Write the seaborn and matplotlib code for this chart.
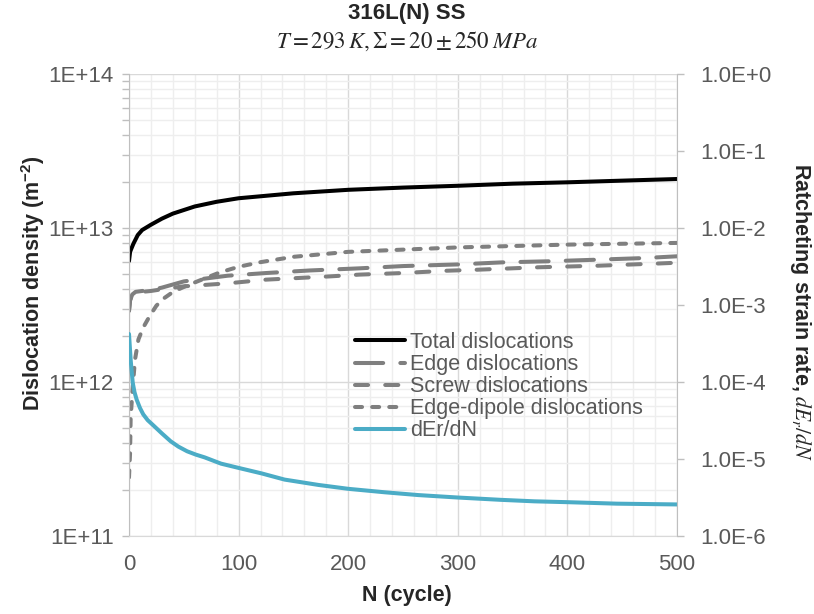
import matplotlib
matplotlib.use("Agg")
import matplotlib.pyplot as plt
import matplotlib.ticker as mticker
import seaborn as sns
import numpy as np

# values
n_total = [0, 1, 2, 4, 8, 12, 20, 30, 40, 60, 80, 100, 150, 200, 250, 300, 350, 400, 450, 500]
rho_total = [6.1e12, 7.0e12, 7.3e12, 7.9e12, 9.0e12, 9.7e12, 1.05e13, 1.15e13, 1.24e13, 1.38e13,
             1.48e13, 1.56e13, 1.68e13, 1.77e13, 1.83e13, 1.88e13, 1.94e13, 1.98e13, 2.03e13, 2.08e13]

n_edge = [0, 1, 3, 6, 12, 20, 30, 50, 70, 90, 125, 165, 210, 250, 300, 340, 383, 425, 470, 500]
rho_edge = [2.9e12, 3.4e12, 3.7e12, 3.85e12, 3.9e12, 3.95e12, 4.1e12, 4.5e12, 4.7e12, 4.9e12,
            5.1e12, 5.3e12, 5.47e12, 5.66e12, 5.8e12, 5.98e12, 6.08e12, 6.22e12, 6.38e12, 6.55e12]

n_screw = [0, 1, 3, 6, 12, 20, 30, 50, 90, 125, 183, 210, 250, 290, 318, 374, 428, 485, 500]
rho_screw = [2.9e12, 3.4e12, 3.7e12, 3.8e12, 3.85e12, 3.9e12, 4.0e12, 4.18e12, 4.37e12, 4.62e12,
             4.85e12, 4.98e12, 5.1e12, 5.28e12, 5.36e12, 5.56e12, 5.69e12, 5.89e12, 5.95e12]

n_dipole = [0, 1, 1.5, 3.4, 5.5, 8.6, 13, 19, 25, 31, 41, 53, 68, 83, 100, 120, 150, 200, 300, 400, 500]
rho_dipole = [2.4e11, 3.5e11, 5.8e11, 9.3e11, 1.40e12, 1.89e12, 2.26e12, 2.69e12, 3.13e12, 3.46e12,
              3.88e12, 4.23e12, 4.67e12, 5.15e12, 5.6e12, 6.0e12, 6.5e12, 7.0e12, 7.48e12, 7.8e12, 8.0e12]

n_rate = [0, 1.5, 3.4, 5, 7, 10, 13, 17, 22, 30, 38, 45, 53, 61, 69, 84, 101, 121, 142, 173, 200,
          233, 264, 300, 339, 370, 400, 445, 500]
rate = [4.2e-4, 1.95e-4, 9.8e-5, 7.4e-5, 5.9e-5, 4.6e-5, 3.8e-5, 3.2e-5, 2.75e-5, 2.15e-5, 1.70e-5,
        1.45e-5, 1.26e-5, 1.14e-5, 1.05e-5, 8.7e-6, 7.6e-6, 6.5e-6, 5.4e-6, 4.6e-6, 4.1e-6, 3.7e-6,
        3.4e-6, 3.16e-6, 2.95e-6, 2.82e-6, 2.75e-6, 2.63e-6, 2.57e-6]

x_ticks = [0, 100, 200, 300, 400, 500]

sns.set_style("white")
plt.rcParams['font.family'] = ['Liberation Sans', 'DejaVu Sans']
plt.rcParams['mathtext.fontset'] = 'custom'
plt.rcParams['mathtext.rm'] = 'Liberation Sans:bold'
plt.rcParams['mathtext.bf'] = 'Liberation Sans:bold'

grey_txt = '#595959'
grey_line = '#7f7f7f'
axis_col = '#bfbfbf'

fig = plt.figure(figsize=(8.14, 6.14), dpi=100)
ax = fig.add_axes([129 / 814, 1 - 536 / 614, 548 / 814, 462 / 614])
ax2 = ax.twinx()

lw = 2.9
sns.lineplot(x=n_total, y=rho_total, ax=ax, color='black', lw=lw, label='Total dislocations')
sns.lineplot(x=n_edge, y=rho_edge, ax=ax, color=grey_line, lw=lw, label='Edge dislocations',
             linestyle=(0, (7, 4.25)), dash_capstyle='round')
sns.lineplot(x=n_screw, y=rho_screw, ax=ax, color=grey_line, lw=lw, label='Screw dislocations',
             linestyle=(0, (3.25, 4.25)), dash_capstyle='round')
sns.lineplot(x=n_dipole, y=rho_dipole, ax=ax, color=grey_line, lw=lw, label='Edge-dipole dislocations',
             linestyle=(0, (1.75, 2.5)), dash_capstyle='round')
sns.lineplot(x=n_rate, y=rate, ax=ax2, color='#4bacc6', lw=lw, label='dEr/dN')

for a in (ax, ax2):
    if a.get_legend() is not None:
        a.get_legend().remove()

# left axis
ax.set_yscale('log')
ax.set_ylim(1e11, 1e14)
ax.set_xlim(0, 500)
ax.set_xticks(x_ticks)
ax.xaxis.set_minor_locator(mticker.MultipleLocator(20))
ax.yaxis.set_major_locator(mticker.LogLocator(base=10, numticks=10))
ax.yaxis.set_minor_locator(mticker.LogLocator(base=10, subs=np.arange(2, 10), numticks=30))
ax.yaxis.set_major_formatter(mticker.FuncFormatter(lambda v, p: "1E+%d" % round(np.log10(v))))
ax.yaxis.set_minor_formatter(mticker.NullFormatter())
ax.set_axisbelow(True)
ax.grid(True, which='major', color='#d9d9d9', lw=1.0)
ax.grid(True, which='minor', color='#eeeeee', lw=1.0)
ax.tick_params(axis='y', which='both', direction='out', length=5, width=1, color=axis_col,
               labelsize=16, labelcolor=grey_txt, pad=6)
ax.tick_params(axis='x', which='both', length=0, labelsize=16, labelcolor=grey_txt, pad=13)
ax.set_xlabel('')
ax.set_ylabel('')
for s in ('top', 'right'):
    ax.spines[s].set_visible(False)
ax.spines['left'].set_color(axis_col)
ax.spines['bottom'].set_color('#d9d9d9')

# right axis
ax2.set_yscale('log')
ax2.set_ylim(1e-6, 1e0)
ax2.yaxis.set_major_locator(mticker.LogLocator(base=10, numticks=10))
ax2.yaxis.set_minor_locator(mticker.NullLocator())


def right_fmt(v, p):
    e = int(round(np.log10(v)))
    return "1.0E+0" if e == 0 else "1.0E%d" % e


ax2.yaxis.set_major_formatter(mticker.FuncFormatter(right_fmt))
ax2.tick_params(axis='y', which='both', direction='out', length=5, width=1, color=axis_col,
                labelsize=16, labelcolor=grey_txt, pad=12)
ax2.set_ylabel('')
ax2.set_xlabel('')
ax2.xaxis.set_visible(False)
for s in ('top', 'left', 'bottom'):
    ax2.spines[s].set_visible(False)
ax2.spines['right'].set_color(axis_col)

# titles and axis labels
fig.text(0.5, 1 - 13 / 614, '316L(N) SS', ha='center', va='center', fontsize=16, fontweight='bold')
fig.text(0.5, 1 - 41 / 614, r'$T = 293\,K, \Sigma = 20 \pm 250\;MPa$', ha='center', va='center',
         fontsize=16.5, math_fontfamily='stix')
fig.text(33 / 814, 1 - 283 / 614, r'Dislocation density (m$^{\mathbf{-2}}$)', rotation=90,
         ha='center', va='center', fontsize=15.5, fontweight='bold')
fig.text(800 / 814, 1 - 312 / 614, r'Ratcheting strain rate, $dE_r/dN$', rotation=270,
         ha='center', va='center', fontsize=15.5, fontweight='bold', math_fontfamily='stix')
fig.text(407 / 814, 1 - 595 / 614, 'N (cycle)', ha='center', va='center', fontsize=15.5,
         fontweight='bold')

# legend
h1, l1 = ax.get_legend_handles_labels()
h2, l2 = ax2.get_legend_handles_labels()
leg = ax2.legend(h1 + h2, l1 + l2, loc='upper left', bbox_to_anchor=(355 / 814, 1 - 332 / 614),
                 bbox_transform=fig.transFigure, frameon=False, fontsize=15.5, handlelength=2.33,
                 handletextpad=0.23, labelspacing=0.05, borderpad=0, borderaxespad=0)
for t in leg.get_texts():
    t.set_color(grey_txt)

fig.savefig('out.png', dpi=100)
